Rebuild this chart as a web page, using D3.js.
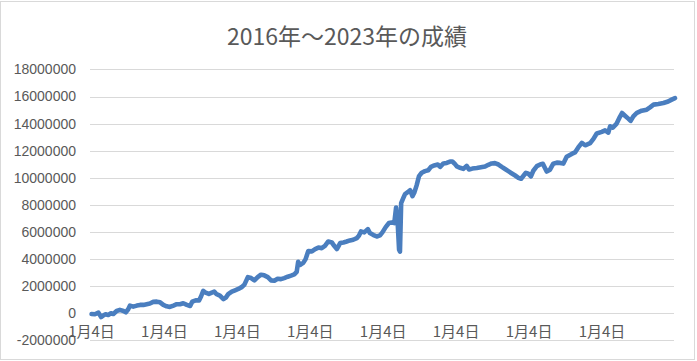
<!DOCTYPE html>
<html>
<head>
<meta charset="utf-8">
<script src="https://cdn.jsdelivr.net/npm/d3@7"></script>
<style>
  html, body { margin: 0; padding: 0; background: #ffffff; }
  svg { display: block; }
</style>
</head>
<body>
<svg id="chart" width="697" height="361"></svg>
<script>
// ---- data ----
const title = "2016年～2023年の成績";
// trading-day index since the first trading day of 2016
const days = [
  2, 13, 25, 34, 41, 49, 58, 67, 75, 86, 97, 109, 117, 125, 131, 142, 154, 165, 176, 187,
  198, 209, 221, 232, 243, 254, 265, 277, 288, 299, 310, 322, 333, 340, 352, 363, 370, 377, 385, 396,
  406, 414, 422, 433, 445, 453, 461, 473, 484, 495, 506, 515, 527, 538, 549, 560, 571, 582, 594, 605,
  616, 627, 638, 649, 661, 672, 683, 691, 696, 702, 713, 721, 730, 742, 753, 764, 775, 786, 797, 809,
  817, 826, 837, 848, 859, 870, 881, 893, 900, 907, 918, 930, 937, 949, 960, 971, 979, 990, 1001, 1010,
  1019, 1025, 1031, 1035, 1038, 1042, 1049, 1055, 1064, 1072, 1080, 1086, 1094, 1102, 1111, 1122, 1133, 1142, 1153, 1165,
  1173, 1184, 1195, 1206, 1214, 1221, 1229, 1240, 1251, 1262, 1270, 1281, 1296, 1310, 1324, 1335, 1346, 1357, 1369, 1380,
  1391, 1402, 1414, 1425, 1436, 1445, 1453, 1461, 1469, 1478, 1486, 1498, 1509, 1518, 1531, 1542, 1553, 1565, 1576, 1587,
  1598, 1615, 1626, 1637, 1649, 1660, 1677, 1688, 1699, 1716, 1727, 1738, 1744, 1753, 1766, 1777, 1784, 1794, 1806, 1813,
  1822, 1834, 1850, 1867, 1878, 1890, 1906, 1923, 1939, 1951, 1962
];
// cumulative result (yen)
const values = [
  -50000, -70000, 50000, -270000, -170000, -70000, -120000, 0, -50000, 170000, 250000, 170000, 70000, 300000, 570000, 490000, 570000, 620000, 620000, 670000,
  720000, 840000, 860000, 810000, 620000, 520000, 470000, 570000, 670000, 670000, 740000, 620000, 540000, 860000, 960000, 940000, 1260000, 1650000, 1530000, 1430000,
  1530000, 1600000, 1410000, 1310000, 1040000, 1160000, 1410000, 1600000, 1700000, 1800000, 1930000, 2100000, 2670000, 2600000, 2430000, 2670000, 2850000, 2800000, 2670000, 2430000,
  2400000, 2550000, 2520000, 2600000, 2700000, 2780000, 2870000, 3050000, 3800000, 3570000, 3720000, 4000000, 4600000, 4570000, 4740000, 4850000, 4810000, 4980000, 5300000, 5230000,
  4980000, 4740000, 5180000, 5230000, 5300000, 5380000, 5430000, 5550000, 5720000, 6040000, 5970000, 6210000, 5920000, 5770000, 5670000, 5750000, 5970000, 6360000, 6660000, 6700000,
  6660000, 7800000, 6400000, 4700000, 4550000, 8130000, 8500000, 8800000, 8940000, 9090000, 8650000, 8900000, 9440000, 10120000, 10370000, 10490000, 10560000, 10810000, 10910000, 10980000,
  10810000, 11060000, 11100000, 11200000, 11200000, 11060000, 10840000, 10740000, 10660000, 10880000, 10610000, 10680000, 10720000, 10780000, 10830000, 10960000, 11060000, 11080000, 10980000, 10810000,
  10650000, 10490000, 10320000, 10170000, 10000000, 9930000, 10150000, 10370000, 10300000, 10100000, 10520000, 10860000, 10980000, 11030000, 10460000, 10600000, 11040000, 11120000, 11100000, 11050000,
  11550000, 11760000, 11870000, 12240000, 12580000, 12400000, 12560000, 12870000, 13270000, 13390000, 13500000, 13330000, 13800000, 13700000, 14000000, 14500000, 14780000, 14580000, 14350000, 14200000,
  14530000, 14800000, 14950000, 15030000, 15200000, 15400000, 15450000, 15520000, 15630000, 15770000, 15880000
];
const yTicks = [-2000000, 0, 2000000, 4000000, 6000000, 8000000, 10000000, 12000000, 14000000, 16000000, 18000000];
// first trading day of each year (label "1月4日")
const xTickDays = [0, 245, 490, 735, 980, 1225, 1470, 1715];
const xTickLabel = "1月4日";

// ---- drawing ----
const svg = d3.select("#chart");

// chart area border
svg.append("rect")
  .attr("x", 0.5).attr("y", 1.5).attr("width", 694).attr("height", 358)
  .attr("fill", "#ffffff").attr("stroke", "#d9d9d9").attr("stroke-width", 1);

const plotLeft = 90, plotRight = 674;
const x = d3.scaleLinear().domain([0, 1962]).range([91, 675]);
const y = d3.scaleLinear().domain([-2000000, 18000000]).range([340.4, 69.4]);

// gridlines
svg.append("g").selectAll("line").data(yTicks).join("line")
  .attr("x1", plotLeft).attr("x2", plotRight)
  .attr("y1", d => Math.round(y(d)) + 0.5).attr("y2", d => Math.round(y(d)) + 0.5)
  .attr("stroke", "#d9d9d9").attr("stroke-width", 1);

// y axis labels
const yAxis = d3.axisLeft(y).tickValues(yTicks).tickSize(0).tickPadding(0)
  .tickFormat(d => String(d));
const gy = svg.append("g").attr("transform", "translate(76,0)").call(yAxis);
gy.select(".domain").remove();
gy.selectAll("text")
  .attr("fill", "#595959")
  .style("font-family", "'Liberation Sans', Arial, sans-serif")
  .style("font-size", "14px");

// x axis labels
const xAxis = d3.axisBottom(x).tickValues(xTickDays).tickSize(0).tickPadding(0)
  .tickFormat(() => xTickLabel);
const gx = svg.append("g").attr("transform", "translate(0,325)").call(xAxis);
gx.select(".domain").remove();
gx.selectAll("text")
  .attr("fill", "#595959")
  .attr("dy", "0.8em")
  .style("font-family", "'Noto Sans CJK JP', sans-serif")
  .style("font-size", "15px");

// line
const pts = days.map((d, i) => [d, values[i]]);
const line = d3.line().x(d => x(d[0])).y(d => y(d[1]));
svg.append("path")
  .datum(pts)
  .attr("d", line)
  .attr("fill", "none")
  .attr("stroke", "#4a7ebf")
  .attr("stroke-width", 4.6)
  .attr("stroke-linejoin", "round")
  .attr("stroke-linecap", "round");

// title
svg.append("text")
  .attr("x", 347).attr("y", 45)
  .attr("text-anchor", "middle")
  .attr("fill", "#595959")
  .style("font-family", "'Noto Sans CJK JP', sans-serif")
  .style("font-size", "23px")
  .text(title);
</script>
</body>
</html>
